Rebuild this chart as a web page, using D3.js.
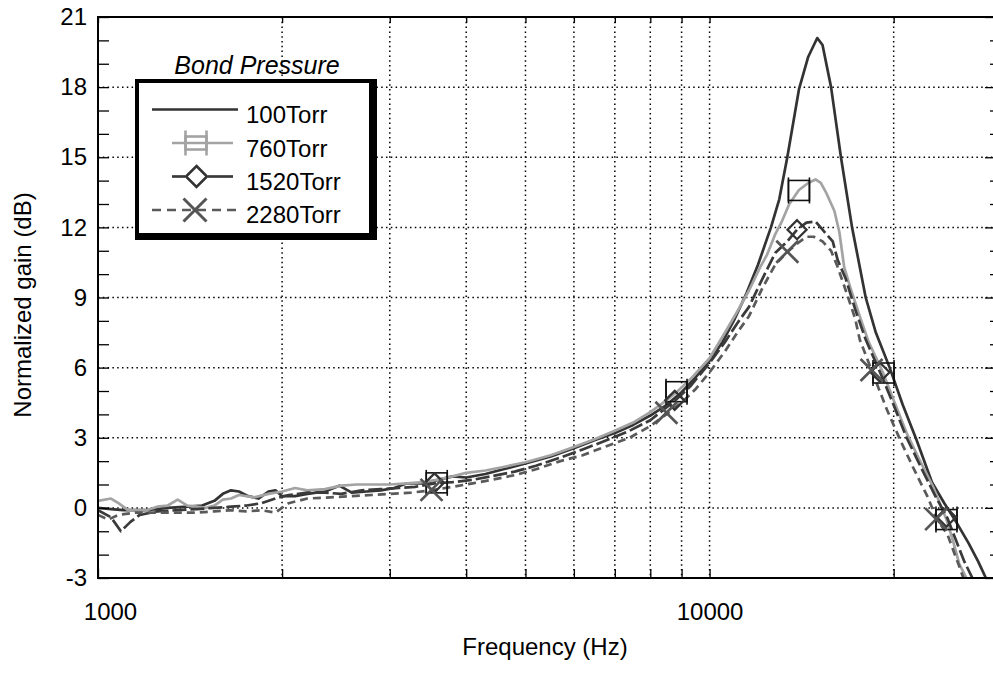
<!DOCTYPE html>
<html><head><meta charset="utf-8">
<script src="https://cdn.jsdelivr.net/npm/d3@7"></script>
<style>body{margin:0;background:#fff}svg{display:block;font-family:"Liberation Sans",Arial,sans-serif}</style>
</head><body><svg id="c" width="993" height="675"></svg>
<script>
const seriesNames = ["100Torr","760Torr","1520Torr","2280Torr"];
const freq100 = [1000,1050,1100,1200,1300,1400,1480,1550,1600,1650,1700,1760,1830,1900,1950,2000,2100,2200,2350,2480,2600,2750,2900,3050,3200,3400,3600,3800,4000,4300,4600,5000,5500,6000,6500,7000,7500,8000,8500,9000,9500,10000,10500,11000,11500,12000,12600,13000,13400,14000,14500,15000,15300,15800,16400,17100,18000,18700,19700,20700,21800,23100,24200,25300,26500,27500,28300];
const gain100 = [0.0,-0.05,-0.1,-0.1,0.0,0.05,0.1,0.3,0.6,0.75,0.7,0.5,0.4,0.7,0.75,0.5,0.5,0.6,0.7,0.95,0.65,0.7,0.75,0.85,1.05,1.05,1.2,1.35,1.3,1.45,1.65,1.9,2.2,2.55,2.9,3.2,3.55,3.95,4.4,4.95,5.6,6.3,7.1,8.1,9.2,10.4,12.0,13.2,15.0,17.9,19.3,20.1,19.8,18.0,15.0,12.0,9.0,7.5,6.0,4.4,2.9,1.1,0.2,-0.6,-1.5,-2.3,-3.0];
const freq760 = [1000,1050,1080,1120,1200,1250,1300,1350,1400,1450,1500,1550,1600,1650,1700,1800,1900,2000,2100,2200,2350,2500,2650,2800,3000,3200,3400,3580,3800,4000,4300,4600,5000,5500,6000,6500,7000,7500,8000,8500,8830,9300,10000,10600,11100,11600,12100,12400,12800,13100,13500,14000,14500,14900,15200,15500,16000,16300,16600,17000,17600,18200,19200,20000,21000,22000,23200,24400,25000,25600,26300];
const gain760 = [0.3,0.4,0.2,-0.1,-0.1,0.05,0.1,0.35,0.1,0.05,0.0,0.1,0.35,0.4,0.55,0.45,0.6,0.7,0.85,0.75,0.8,0.95,1.0,1.0,1.0,1.05,1.1,1.2,1.35,1.5,1.6,1.75,1.95,2.25,2.6,2.95,3.3,3.65,4.1,4.6,4.95,5.5,6.4,7.5,8.4,9.3,10.3,10.8,11.7,12.2,13.0,13.6,13.9,14.05,13.9,13.5,12.7,11.8,10.3,9.4,8.2,7.1,5.8,4.6,3.2,2.1,0.9,-0.5,-1.4,-2.4,-3.0];
const freq1520 = [1000,1050,1090,1130,1170,1250,1350,1450,1550,1650,1750,1850,1950,2050,2200,2350,2500,2700,2900,3100,3300,3550,3800,4100,4400,4800,5200,5700,6200,6800,7400,8000,8750,9300,10000,10600,11100,11600,12200,12800,13400,13900,14400,14900,15300,15900,16200,16700,17300,18000,19000,20000,21000,22200,23400,24500,25300,26100,26900];
const gain1520 = [-0.1,-0.4,-1.0,-0.6,-0.3,-0.15,-0.1,-0.05,0.0,0.05,0.1,0.2,0.4,0.55,0.65,0.65,0.6,0.75,0.8,0.85,0.9,1.05,1.1,1.2,1.35,1.55,1.8,2.15,2.5,2.9,3.3,3.75,4.55,5.2,6.2,7.1,7.9,8.6,9.8,10.9,11.4,11.9,12.2,12.25,11.9,11.4,10.6,9.8,8.5,7.2,5.8,4.4,3.0,1.7,0.5,-0.45,-1.4,-2.3,-3.0];
const freq2280 = [1000,1040,1080,1150,1250,1350,1450,1550,1650,1750,1850,1950,2050,2200,2400,2600,2800,3000,3250,3500,3800,4100,4400,4800,5200,5700,6200,6800,7400,8000,8500,9000,9500,10000,10600,11100,11600,12200,12800,13400,13900,14400,14800,15300,15800,16200,16700,17300,17600,18400,19500,20500,21500,22700,23500,24500,25100,25600,26000];
const gain2280 = [-0.3,-0.5,-0.3,-0.2,-0.2,-0.2,-0.2,-0.15,-0.1,-0.15,-0.1,-0.2,0.2,0.4,0.45,0.5,0.55,0.6,0.65,0.75,0.9,1.05,1.2,1.4,1.65,2.0,2.25,2.65,3.0,3.5,4.0,4.5,5.1,5.8,6.7,7.5,8.2,9.4,10.4,10.95,11.3,11.6,11.6,11.4,11.0,10.3,9.3,8.1,7.2,5.9,4.2,2.9,1.75,0.5,-0.45,-1.15,-1.9,-2.5,-3.0];
const markF760 = [3580,8830,14000,19250,24400], markV760 = [1.07,4.97,13.58,5.77,-0.5];
const markF1520 = [3550,8770,13900,19000,24400], markV1520 = [1.07,4.6,11.9,5.8,-0.4];
const markF2280 = [3510,8500,13400,18400,23470], markV2280 = [0.77,4.07,10.96,5.9,-0.48];
const xTicks = [1000,2000,3000,4000,5000,6000,7000,8000,9000,10000,20000];
const xLabels = [1000,10000];
const yMajor = [-3,0,3,6,9,12,15,18,21];

const svg = d3.select("#c");
const L=98,R=996,T=17,B=578;
const FONT = "Liberation Sans, Arial, sans-serif";
const x = d3.scaleLog().domain([1000,29400]).range([L,R]);
const y = d3.scaleLinear().domain([-3,21]).range([B,T]);

// grid
const g = svg.append("g");
g.selectAll(".vg").data(xTicks.slice(1)).join("line").attr("x1",d=>x(d)).attr("x2",d=>x(d)).attr("y1",T).attr("y2",B)
 .attr("stroke","#000").attr("stroke-width",1.5).attr("stroke-dasharray","1.5,3.3");
g.selectAll(".hg").data(yMajor.slice(1,-1)).join("line").attr("x1",L).attr("x2",R).attr("y1",d=>y(d)).attr("y2",d=>y(d))
 .attr("stroke","#000").attr("stroke-width",1.5).attr("stroke-dasharray","1.5,3.3");

// series
const series = [
 {f:freq100,v:gain100,color:"#333",dash:null,w:2.7},
 {f:freq760,v:gain760,color:"#a3a3a3",dash:null,w:2.7},
 {f:freq1520,v:gain1520,color:"#3a3a3a",dash:"14,4",w:2.7},
 {f:freq2280,v:gain2280,color:"#5a5a5a",dash:"8,5",w:2.7}
];
const line = d3.line().x(d=>x(d[0])).y(d=>y(d[1]));
svg.append("defs").append("clipPath").attr("id","clip").append("rect").attr("x",L).attr("y",T).attr("width",R-L).attr("height",B-T);
const lg = svg.append("g").attr("clip-path","url(#clip)");
series.forEach(s=>{
  lg.append("path").datum(s.f.map((f,i)=>[f,s.v[i]])).attr("d",line).attr("fill","none")
    .attr("stroke",s.color).attr("stroke-width",s.w).attr("stroke-dasharray",s.dash).attr("stroke-linejoin","round");
});

// marker drawers
function square(sel,cx,cy,col,sw,hw,hh,ext){
  sel.append("rect").attr("x",cx-hw).attr("y",cy-hh).attr("width",2*hw).attr("height",2*hh).attr("fill","none").attr("stroke",col).attr("stroke-width",sw);
  sel.append("line").attr("x1",cx-hw).attr("x2",cx-hw).attr("y1",cy-hh-ext).attr("y2",cy+hh+ext).attr("stroke",col).attr("stroke-width",sw);
  sel.append("line").attr("x1",cx+hw).attr("x2",cx+hw).attr("y1",cy-hh-ext).attr("y2",cy+hh+ext).attr("stroke",col).attr("stroke-width",sw);
}
function diamond(sel,cx,cy,col,sw,h){
  sel.append("path").attr("d",`M${cx},${cy-h}L${cx+h},${cy}L${cx},${cy+h}L${cx-h},${cy}Z`).attr("fill","none").attr("stroke",col).attr("stroke-width",sw);
}
function cross(sel,cx,cy,col,sw,h){
  sel.append("path").attr("d",`M${cx-h},${cy-h}L${cx+h},${cy+h}M${cx-h},${cy+h}L${cx+h},${cy-h}`).attr("stroke",col).attr("stroke-width",sw);
}
const mg = svg.append("g");
markF760.forEach((f,i)=>square(mg,x(f),y(markV760[i]),"#111",1.6,10.5,10,3));
markF1520.forEach((f,i)=>diamond(mg,x(f),y(markV1520[i]),"#333",2.3,9.5));
markF2280.forEach((f,i)=>cross(mg,x(f),y(markV2280[i]),"#555",2.7,11));

// axes
const ax = svg.append("g");
const xb = d3.axisBottom(x).tickValues(xTicks).tickSizeInner(-9).tickSizeOuter(0).tickPadding(25)
  .tickFormat(d=>xLabels.includes(d)?String(d):"");
const gx = ax.append("g").attr("transform",`translate(0,${B})`).call(xb);
gx.selectAll(".tick text").filter(d=>d===1000).attr("dx",12);
const xt = d3.axisTop(x).tickValues(xTicks).tickSizeInner(-6).tickSizeOuter(0).tickFormat("");
ax.append("g").attr("transform",`translate(0,${T})`).call(xt);
const yl = d3.axisLeft(y).tickValues(d3.range(-3,22,1)).tickSizeInner(-11).tickSizeOuter(0).tickPadding(11)
  .tickFormat(d=>yMajor.includes(d)?String(d):"");
ax.append("g").attr("transform",`translate(${L},0)`).call(yl);
const yr = d3.axisRight(y).tickValues(d3.range(-3,22,1)).tickSizeInner(-6).tickSizeOuter(0).tickFormat("");
const gyr = ax.append("g").attr("transform",`translate(${R},0)`).call(yr);
gyr.selectAll(".tick line").filter(d=>d%3===0).attr("x2",-11);
ax.selectAll(".domain").remove();
ax.selectAll(".tick line").attr("stroke","#000").attr("stroke-width",1.3);
ax.selectAll("text").attr("fill","#000").attr("font-family",FONT).attr("font-size",24);
svg.append("rect").attr("x",L).attr("y",T).attr("width",R-L).attr("height",B-T).attr("fill","none").attr("stroke","#000").attr("stroke-width",2);

// titles
svg.append("text").attr("x",545).attr("y",655).attr("text-anchor","middle").attr("font-size",24).attr("font-family",FONT).text("Frequency (Hz)");
svg.append("text").attr("transform",`translate(31,305) rotate(-90)`).attr("text-anchor","middle").attr("font-size",24).attr("font-family",FONT).text("Normalized gain (dB)");

// legend
const leg = svg.append("g");
leg.append("rect").attr("x",135).attr("y",79).attr("width",242).attr("height",161).attr("fill","#000");
leg.append("rect").attr("x",139).attr("y",83).attr("width",230).attr("height",150).attr("fill","#fff");
leg.append("text").attr("x",257).attr("y",74).attr("text-anchor","middle").attr("font-size",25).attr("font-style","italic").attr("font-family",FONT).text("Bond Pressure");
const ly = [109.5,143,176.5,210];
const tb = [123,157,190,223];
leg.append("line").attr("x1",152).attr("x2",238).attr("y1",ly[0]).attr("y2",ly[0]).attr("stroke",series[0].color).attr("stroke-width",2.7);
leg.append("line").attr("x1",172).attr("x2",233).attr("y1",ly[1]).attr("y2",ly[1]).attr("stroke",series[1].color).attr("stroke-width",2.7);
leg.append("line").attr("x1",172).attr("x2",185).attr("y1",ly[2]).attr("y2",ly[2]).attr("stroke",series[2].color).attr("stroke-width",2.7);
leg.append("line").attr("x1",208).attr("x2",233).attr("y1",ly[2]).attr("y2",ly[2]).attr("stroke",series[2].color).attr("stroke-width",2.7);
leg.append("line").attr("x1",152).attr("x2",238).attr("y1",ly[3]).attr("y2",ly[3]).attr("stroke",series[3].color).attr("stroke-width",2.7).attr("stroke-dasharray","9,6");
seriesNames.forEach((n,i)=>{
  leg.append("text").attr("x",246).attr("y",tb[i]).attr("font-size",24).attr("font-family",FONT).text(n);
});
square(leg,196,ly[1],"#a3a3a3",2.6,10.5,6.5,6);
diamond(leg,196.5,ly[2],"#333",2.6,10.5);
cross(leg,195,ly[3],"#555",3,11.5);
</script></body></html>
